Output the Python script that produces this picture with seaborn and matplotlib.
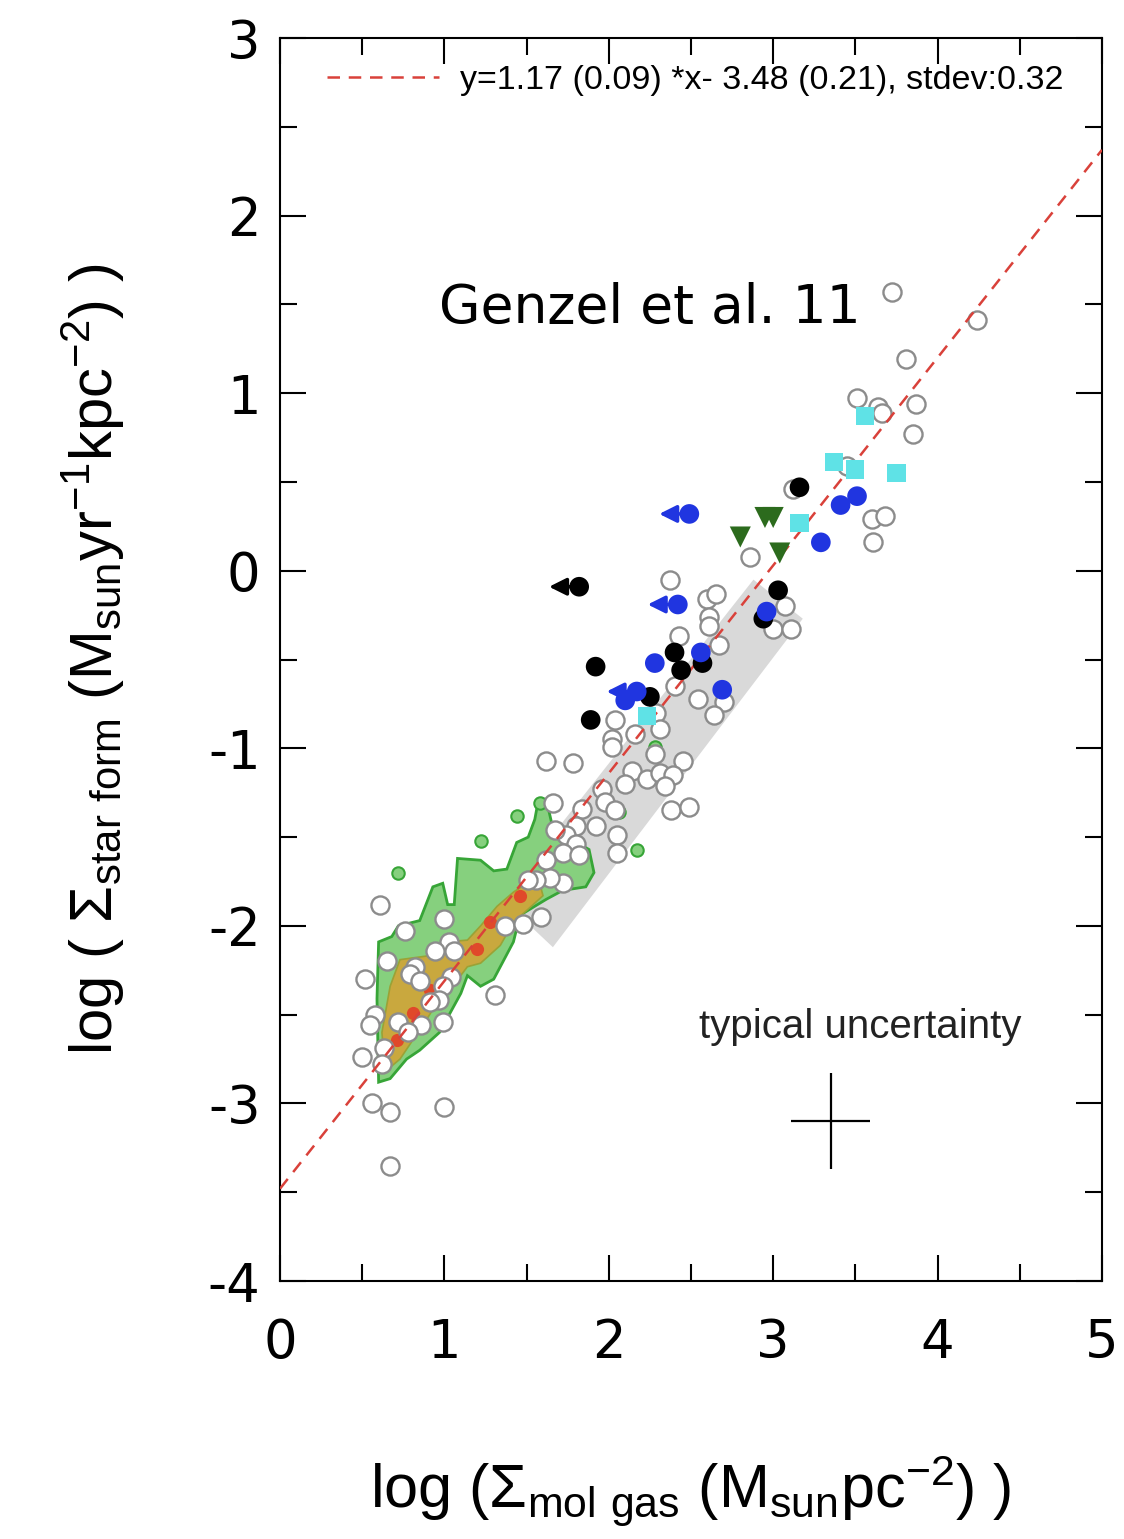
import numpy as np
import pandas as pd
import matplotlib
matplotlib.use("Agg")
import matplotlib.pyplot as plt
import seaborn as sns

# ---------------- data ----------------
fit_slope = 1.17
fit_intercept = -3.48
fit_label = "y=1.17 (0.09) *x- 3.48 (0.21), stdev:0.32"

open_x = [3.72, 4.24, 3.81, 3.51, 3.64, 3.66, 3.87, 3.85, 3.45, 3.60, 3.68, 3.61, 2.86, 3.12,
          2.37, 2.60, 2.65, 3.07, 3.00, 3.11,
          2.61, 2.61, 2.43, 2.67, 2.40, 2.54, 2.70, 2.64, 2.29, 2.04, 2.16, 2.31, 2.02, 2.02,
          2.28, 2.45, 1.62, 1.78, 2.14, 2.23, 2.31, 2.39, 2.10, 2.34, 1.96, 1.98, 2.04, 2.38,
          2.49, 1.66, 1.84, 1.92, 1.80, 1.74, 1.67, 2.05, 2.05, 1.80, 1.72, 1.62, 1.82, 1.72,
          1.64, 1.56, 1.51,
          0.61, 1.00, 0.76, 1.37, 1.48, 1.59, 1.03, 0.94, 1.06, 0.65, 0.82, 0.79, 0.85, 0.52,
          1.04, 0.99, 1.31, 0.97, 0.91, 0.58, 0.55, 0.72, 0.86, 0.99, 0.78, 0.63, 0.50, 0.62,
          0.56, 0.67, 1.00, 0.67]
open_y = [1.57, 1.41, 1.19, 0.97, 0.92, 0.89, 0.94, 0.77, 0.59, 0.29, 0.31, 0.16, 0.08, 0.46,
          -0.05, -0.16, -0.13, -0.20, -0.33, -0.33,
          -0.26, -0.31, -0.37, -0.42, -0.65, -0.72, -0.74, -0.81, -0.80, -0.84, -0.92, -0.89, -0.95, -0.99,
          -1.03, -1.07, -1.07, -1.08, -1.13, -1.17, -1.14, -1.15, -1.20, -1.21, -1.23, -1.30, -1.35, -1.35,
          -1.33, -1.31, -1.34, -1.44, -1.44, -1.49, -1.46, -1.49, -1.59, -1.54, -1.59, -1.63, -1.60, -1.76,
          -1.73, -1.74, -1.74,
          -1.88, -1.96, -2.03, -2.00, -1.99, -1.95, -2.09, -2.14, -2.14, -2.20, -2.23, -2.27, -2.31, -2.30,
          -2.29, -2.34, -2.39, -2.42, -2.43, -2.50, -2.56, -2.54, -2.56, -2.54, -2.60, -2.69, -2.74, -2.78,
          -3.00, -3.05, -3.02, -3.35]

black_x = [3.16, 3.03, 1.92, 1.89, 2.40, 2.44, 2.57, 2.25, 2.94]
black_y = [0.47, -0.11, -0.54, -0.84, -0.46, -0.56, -0.52, -0.71, -0.27]
black_lim_x = [1.82]
black_lim_y = [-0.09]

blue_x = [3.51, 3.41, 3.29, 2.96, 2.28, 2.56, 2.69, 2.10]
blue_y = [0.42, 0.37, 0.16, -0.23, -0.52, -0.46, -0.67, -0.73]
blue_lim_x = [2.49, 2.42, 2.17]
blue_lim_y = [0.32, -0.19, -0.68]

tri_x = [2.80, 2.95, 3.00, 3.04]
tri_y = [0.19, 0.30, 0.30, 0.10]

cyan_x = [3.56, 3.37, 3.50, 3.75, 3.16, 2.23]
cyan_y = [0.87, 0.61, 0.57, 0.55, 0.27, -0.82]

# gray band (Genzel et al. relation region)
band_x = [2.88, 3.18, 1.66, 1.35]
band_y = [-0.05, -0.27, -2.12, -1.85]

# resolved-pixel density contours
green_x = [0.60, 0.59, 0.60, 0.68, 0.72, 0.85, 0.93, 0.99, 1.02, 1.06, 1.08, 1.22, 1.30, 1.38,
           1.44, 1.51, 1.55, 1.57, 1.63, 1.66, 1.75, 1.88, 1.91, 1.86, 1.72, 1.62, 1.46, 1.42,
           1.30, 1.22, 1.14, 1.10, 0.97, 0.85, 0.77, 0.67]
green_y = [-2.88, -2.41, -2.09, -2.06, -2.00, -1.97, -1.78, -1.76, -1.88, -1.88, -1.62, -1.63, -1.69, -1.68,
           -1.53, -1.50, -1.40, -1.30, -1.33, -1.45, -1.50, -1.57, -1.70, -1.78, -1.80, -1.85, -1.94, -2.09,
           -2.30, -2.34, -2.28, -2.38, -2.60, -2.70, -2.75, -2.86]
olive_x = [0.64, 0.62, 0.67, 0.73, 0.89, 1.01, 1.14, 1.22, 1.32, 1.42, 1.50, 1.58, 1.60, 1.42,
           1.34, 1.22, 1.14, 1.05, 0.97, 0.89, 0.81, 0.73]
olive_y = [-2.82, -2.60, -2.34, -2.19, -2.17, -2.09, -2.08, -2.00, -1.89, -1.81, -1.76, -1.76, -1.83, -1.98,
           -2.11, -2.21, -2.23, -2.34, -2.41, -2.53, -2.64, -2.75]
peak_x = [1.20, 1.28, 0.91, 1.46, 0.81, 0.71]
peak_y = [-2.13, -1.98, -2.36, -1.83, -2.49, -2.64]
blob_x = [0.72, 1.22, 1.44, 1.58, 2.06, 2.17, 2.28]
blob_y = [-1.70, -1.52, -1.38, -1.31, -1.36, -1.57, -0.99]

unc_x, unc_y, unc_dx, unc_dy = 3.35, -3.10, 0.24, 0.27

# ---------------- styling ----------------
sns.set_theme(style="ticks")
plt.rcParams["font.family"] = ["DejaVu Sans"]
plt.rcParams["mathtext.default"] = "regular"
plt.rcParams["axes.unicode_minus"] = False
for k in ["text.color", "axes.labelcolor", "xtick.color", "ytick.color",
          "xtick.labelcolor", "ytick.labelcolor"]:
    plt.rcParams[k] = "black"

fig = plt.figure(figsize=(11.24, 15.39), dpi=100)
ax = fig.add_axes([0.2491, 0.1676, 0.7313, 0.8077])
ax.set_facecolor("white")

ax.fill(band_x, band_y, color="#d9d9d9", lw=0, zorder=1)
ax.fill(green_x, green_y, facecolor="#86d07e", edgecolor="#37a537", lw=2, zorder=2)
ax.fill(olive_x, olive_y, facecolor="#c9a83e", edgecolor="#9aa236", lw=1.2, zorder=2.1)
ax.scatter(peak_x, peak_y, s=90, color="#e0492a", lw=0, zorder=2.2)
ax.scatter(blob_x, blob_y, s=80, color="#86d07e", edgecolor="#37a537", lw=1.5, zorder=2.1)

fx = np.array([0.0, 5.0])
ax.plot(fx, fit_slope * fx + fit_intercept, ls=(0, (5, 3.5)), color="#d9413a", lw=1.8,
        zorder=5, label=fit_label)

sns.scatterplot(x=open_x, y=open_y, ax=ax, marker="o", s=170, color="white",
                edgecolor="#8c8c8c", linewidth=1.7, zorder=4)
sns.scatterplot(x=tri_x, y=tri_y, ax=ax, marker="v", s=230, color="#2c6b1d",
                edgecolor="none", zorder=6)
sns.scatterplot(x=cyan_x, y=cyan_y, ax=ax, marker="s", s=170, color="#5fe2e6",
                edgecolor="none", zorder=6)
sns.scatterplot(x=black_x + black_lim_x, y=black_y + black_lim_y, ax=ax, marker="o", s=200,
                color="black", edgecolor="none", zorder=6)
sns.scatterplot(x=blue_x + blue_lim_x, y=blue_y + blue_lim_y, ax=ax, marker="o", s=200,
                color="#2035e0", edgecolor="none", zorder=6.5)

for lx, ly in zip(black_lim_x, black_lim_y):
    ax.annotate("", xy=(lx - 0.2, ly), xytext=(lx, ly), zorder=6,
                arrowprops=dict(arrowstyle="-|>", color="black", lw=2.5, mutation_scale=26))
for lx, ly in zip(blue_lim_x, blue_lim_y):
    ax.annotate("", xy=(lx - 0.2, ly), xytext=(lx, ly), zorder=6,
                arrowprops=dict(arrowstyle="-|>", color="#2035e0", lw=2.5, mutation_scale=26))

ax.errorbar([unc_x], [unc_y], xerr=[unc_dx], yerr=[unc_dy], fmt="none", ecolor="black",
            elinewidth=1.6, capsize=0, zorder=6)
ax.text(3.53, -2.57, "typical uncertainty", ha="center", va="center", fontsize=29,
        family=["Liberation Sans", "DejaVu Sans"], color="#222222")
ax.text(2.25, 1.48, "Genzel et al. 11", ha="center", va="center", fontsize=38.5,
        family=["DejaVu Sans"], color="black")

ax.set_xlim(0, 5)
ax.set_ylim(-4, 3)
ax.set_xticks(np.arange(0, 6, 1))
ax.set_yticks(np.arange(-4, 4, 1))
ax.set_xticks(np.arange(0.5, 5, 1), minor=True)
ax.set_yticks(np.arange(-3.5, 3, 1), minor=True)
ax.tick_params(which="both", direction="in", top=True, right=True, color="black", width=1.5)
ax.tick_params(which="major", length=19, labelsize=38, pad=14)
ax.tick_params(axis="x", which="major", pad=26)
ax.tick_params(which="minor", length=12)
for sp in ax.spines.values():
    sp.set_color("black")
    sp.set_linewidth(1.5)

lab_font = ["Liberation Sans", "DejaVu Sans"]
ax.set_xlabel(r"log ($\Sigma_{mol\ gas}$ (M$_{sun}$pc$^{-2}$) )", fontsize=44,
              family=lab_font, labelpad=60)
ax.set_ylabel(r"log ( $\Sigma_{star\ form}$ (M$_{sun}$yr$^{-1}$kpc$^{-2}$) )", fontsize=43,
              family=lab_font, labelpad=58)

leg = ax.legend(loc="upper left", bbox_to_anchor=(0.02, 1.003), frameon=False,
                handlelength=3.3, handletextpad=0.6,
                prop={"family": lab_font, "size": 24.5})

fig.savefig("out.png", dpi=100, facecolor="white")
